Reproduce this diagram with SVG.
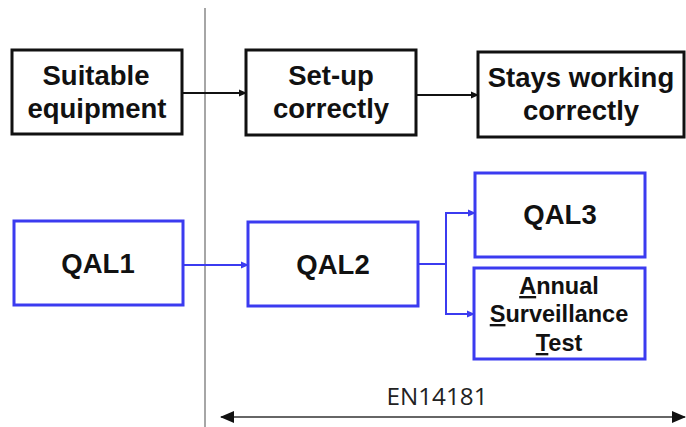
<svg xmlns="http://www.w3.org/2000/svg" width="686" height="427" viewBox="0 0 686 427">
<defs>
<style>
.bk{fill:#fff;stroke:#111;stroke-width:3}
.bl{fill:#fff;stroke:#3b3bf0;stroke-width:3}
.t{font-family:"Liberation Sans",Arial,sans-serif;font-weight:bold;fill:#111;text-anchor:middle}
.big{font-size:27.5px}
.sm{font-size:23.5px}
.ck{stroke:#111;stroke-width:2;fill:none}
.cb{stroke:#3b3bf0;stroke-width:2;fill:none}
</style>
<marker id="ak" markerWidth="8" markerHeight="8" refX="7" refY="4" orient="auto" markerUnits="userSpaceOnUse"><path d="M0,0.5 L8,4 L0,7.5 Z" fill="#111"/></marker>
<marker id="ab" markerWidth="8" markerHeight="8" refX="7" refY="4" orient="auto" markerUnits="userSpaceOnUse"><path d="M0,0.5 L8,4 L0,7.5 Z" fill="#3b3bf0"/></marker>
<marker id="ad" markerWidth="14" markerHeight="12" refX="13" refY="6" orient="auto-start-reverse" markerUnits="userSpaceOnUse"><path d="M0,0 L14,6 L0,12 Z" fill="#111"/></marker>
</defs>
<line x1="205" y1="8" x2="205" y2="427" stroke="#888" stroke-width="1.5"/>
<g id="connectors">
<line class="ck" x1="183" y1="93" x2="246" y2="93" marker-end="url(#ak)"/>
<line class="ck" x1="417" y1="95" x2="478" y2="95" marker-end="url(#ak)"/>
<line class="cb" x1="183" y1="265" x2="248" y2="265" marker-end="url(#ab)"/>
<polyline class="cb" points="418,264 446,264"/>
<polyline class="cb" points="475,213 446,213 446,314 474,314" marker-end="url(#ab)"/>
<line class="cb" x1="446" y1="213" x2="475" y2="213" marker-end="url(#ab)"/>
<line x1="221" y1="417" x2="685" y2="417" stroke="#333" stroke-width="1.5" marker-start="url(#ad)" marker-end="url(#ad)"/>
</g>
<g id="suitable">
<rect class="bk" x="12" y="50" width="170" height="84"/>
<text class="t big" x="96" y="85">Suitable</text>
<text class="t big" x="97" y="118">equipment</text>
</g>
<g id="setup">
<rect class="bk" x="246" y="50" width="170" height="85"/>
<text class="t big" x="331" y="85">Set-up</text>
<text class="t big" x="331" y="118">correctly</text>
</g>
<g id="stays">
<rect class="bk" x="478" y="52" width="206" height="85"/>
<text class="t big" x="581" y="87">Stays working</text>
<text class="t big" x="581" y="120">correctly</text>
</g>
<g id="qal1">
<rect class="bl" x="14" y="221" width="169" height="84"/>
<text class="t big" x="98" y="273">QAL1</text>
</g>
<g id="qal2">
<rect class="bl" x="248" y="222" width="170" height="84"/>
<text class="t big" x="333" y="274">QAL2</text>
</g>
<g id="qal3">
<rect class="bl" x="475" y="173" width="170" height="84"/>
<text class="t big" x="560" y="224">QAL3</text>
</g>
<g id="ast">
<rect class="bl" x="474" y="268" width="171" height="91"/>
<text class="t sm" x="559" y="294"><tspan text-decoration="underline">A</tspan>nnual</text>
<text class="t sm" x="559" y="322"><tspan text-decoration="underline">S</tspan>urveillance</text>
<text class="t sm" x="559" y="351"><tspan text-decoration="underline">T</tspan>est</text>
</g>
<g id="en14181">
<text x="437" y="405" font-family="'Open Sans','Liberation Sans',sans-serif" font-size="23" fill="#222" text-anchor="middle" textLength="101" lengthAdjust="spacingAndGlyphs">EN14181</text>
</g>
</svg>
